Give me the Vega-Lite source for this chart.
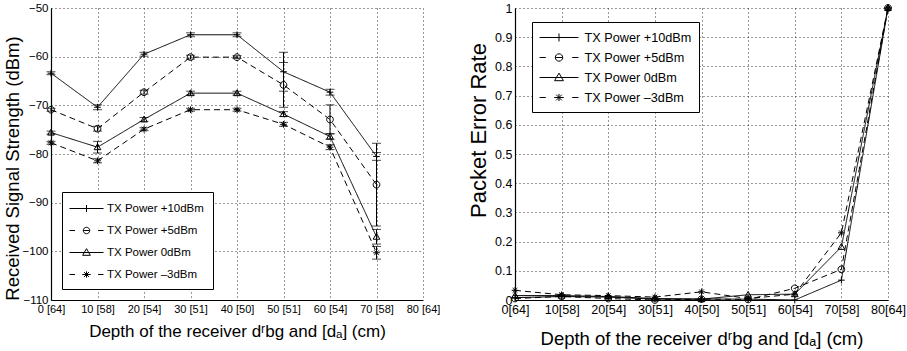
{
  "$schema": "https://vega.github.io/schema/vega-lite/v6.json",
  "background": "white",
  "padding": {"left": 3, "top": 2, "right": 2, "bottom": 0},
  "spacing": 27,
  "config": {
    "font": "Liberation Sans",
    "view": {"stroke": null},
    "axis": {
      "domainColor": "black", "domainWidth": 1.2,
      "grid": true, "gridColor": "#333", "gridDash": [1, 3], "gridOpacity": 1, "gridWidth": 1,
      "ticks": false, "labelColor": "black", "titleColor": "black",
      "labelFont": "Liberation Sans", "titleFont": "Liberation Sans", "titleFontWeight": "normal",
      "labelFlush": false, "labelOverlap": false, "labelPadding": 3
    },
    "legend": {"labelFont": "Liberation Sans", "labelColor": "black"}
  },
  "datasets": {
    "rss": [
      {"series": "TX Power +10dBm", "depth": 0, "rss": -63.4, "lo": -63.7, "hi": -63.1},
      {"series": "TX Power +10dBm", "depth": 10, "rss": -70.4, "lo": -70.9, "hi": -69.9},
      {"series": "TX Power +10dBm", "depth": 20, "rss": -59.5, "lo": -59.9, "hi": -59.1},
      {"series": "TX Power +10dBm", "depth": 30, "rss": -55.5, "lo": -55.9, "hi": -55.1},
      {"series": "TX Power +10dBm", "depth": 40, "rss": -55.5, "lo": -55.9, "hi": -55.1},
      {"series": "TX Power +10dBm", "depth": 50, "rss": -63.1, "lo": -67.1, "hi": -59.1},
      {"series": "TX Power +10dBm", "depth": 60, "rss": -67.3, "lo": -67.9, "hi": -66.7},
      {"series": "TX Power +10dBm", "depth": 70, "rss": -80.5, "lo": -81.3, "hi": -79.7},
      {"series": "TX Power +5dBm", "depth": 0, "rss": -70.9, "lo": -71.2, "hi": -70.6},
      {"series": "TX Power +5dBm", "depth": 10, "rss": -74.8, "lo": -75.3, "hi": -74.3},
      {"series": "TX Power +5dBm", "depth": 20, "rss": -67.3, "lo": -67.7, "hi": -66.9},
      {"series": "TX Power +5dBm", "depth": 30, "rss": -60.1, "lo": -60.5, "hi": -59.7},
      {"series": "TX Power +5dBm", "depth": 40, "rss": -60.1, "lo": -60.4, "hi": -59.8},
      {"series": "TX Power +5dBm", "depth": 50, "rss": -65.8, "lo": -70.4, "hi": -61.2},
      {"series": "TX Power +5dBm", "depth": 60, "rss": -72.9, "lo": -75.9, "hi": -69.9},
      {"series": "TX Power +5dBm", "depth": 70, "rss": -86.3, "lo": -94.8, "hi": -77.8},
      {"series": "TX Power 0dBm", "depth": 0, "rss": -75.6, "lo": -75.9, "hi": -75.3},
      {"series": "TX Power 0dBm", "depth": 10, "rss": -78.6, "lo": -79.8, "hi": -77.4},
      {"series": "TX Power 0dBm", "depth": 20, "rss": -72.9, "lo": -73.3, "hi": -72.5},
      {"series": "TX Power 0dBm", "depth": 30, "rss": -67.5, "lo": -67.9, "hi": -67.1},
      {"series": "TX Power 0dBm", "depth": 40, "rss": -67.5, "lo": -67.9, "hi": -67.1},
      {"series": "TX Power 0dBm", "depth": 50, "rss": -71.8, "lo": -72.3, "hi": -71.3},
      {"series": "TX Power 0dBm", "depth": 60, "rss": -76.4, "lo": -77.0, "hi": -75.8},
      {"series": "TX Power 0dBm", "depth": 70, "rss": -97.0, "lo": -98.5, "hi": -95.5},
      {"series": "TX Power –3dBm", "depth": 0, "rss": -77.7, "lo": -78.0, "hi": -77.4},
      {"series": "TX Power –3dBm", "depth": 10, "rss": -81.4, "lo": -81.8, "hi": -81.0},
      {"series": "TX Power –3dBm", "depth": 20, "rss": -74.9, "lo": -75.2, "hi": -74.6},
      {"series": "TX Power –3dBm", "depth": 30, "rss": -70.9, "lo": -71.2, "hi": -70.6},
      {"series": "TX Power –3dBm", "depth": 40, "rss": -70.9, "lo": -71.2, "hi": -70.6},
      {"series": "TX Power –3dBm", "depth": 50, "rss": -73.9, "lo": -74.3, "hi": -73.5},
      {"series": "TX Power –3dBm", "depth": 60, "rss": -78.6, "lo": -79.1, "hi": -78.1},
      {"series": "TX Power –3dBm", "depth": 70, "rss": -100.3, "lo": -101.6, "hi": -99.0}
    ],
    "per": [
      {"series": "TX Power +10dBm", "depth": 0, "per": 0.008},
      {"series": "TX Power +10dBm", "depth": 10, "per": 0.012},
      {"series": "TX Power +10dBm", "depth": 20, "per": 0.01},
      {"series": "TX Power +10dBm", "depth": 30, "per": 0.003},
      {"series": "TX Power +10dBm", "depth": 40, "per": 0.003},
      {"series": "TX Power +10dBm", "depth": 50, "per": 0.003},
      {"series": "TX Power +10dBm", "depth": 60, "per": 0.0},
      {"series": "TX Power +10dBm", "depth": 70, "per": 0.068},
      {"series": "TX Power +10dBm", "depth": 80, "per": 1.0},
      {"series": "TX Power +5dBm", "depth": 0, "per": 0.005},
      {"series": "TX Power +5dBm", "depth": 10, "per": 0.012},
      {"series": "TX Power +5dBm", "depth": 20, "per": 0.005},
      {"series": "TX Power +5dBm", "depth": 30, "per": 0.0},
      {"series": "TX Power +5dBm", "depth": 40, "per": 0.003},
      {"series": "TX Power +5dBm", "depth": 50, "per": 0.002},
      {"series": "TX Power +5dBm", "depth": 60, "per": 0.04},
      {"series": "TX Power +5dBm", "depth": 70, "per": 0.105},
      {"series": "TX Power +5dBm", "depth": 80, "per": 1.0},
      {"series": "TX Power 0dBm", "depth": 0, "per": 0.015},
      {"series": "TX Power 0dBm", "depth": 10, "per": 0.015},
      {"series": "TX Power 0dBm", "depth": 20, "per": 0.012},
      {"series": "TX Power 0dBm", "depth": 30, "per": 0.005},
      {"series": "TX Power 0dBm", "depth": 40, "per": 0.003},
      {"series": "TX Power 0dBm", "depth": 50, "per": 0.018},
      {"series": "TX Power 0dBm", "depth": 60, "per": 0.02},
      {"series": "TX Power 0dBm", "depth": 70, "per": 0.182},
      {"series": "TX Power 0dBm", "depth": 80, "per": 1.0},
      {"series": "TX Power –3dBm", "depth": 0, "per": 0.033},
      {"series": "TX Power –3dBm", "depth": 10, "per": 0.018},
      {"series": "TX Power –3dBm", "depth": 20, "per": 0.015},
      {"series": "TX Power –3dBm", "depth": 30, "per": 0.01},
      {"series": "TX Power –3dBm", "depth": 40, "per": 0.028},
      {"series": "TX Power –3dBm", "depth": 50, "per": 0.005},
      {"series": "TX Power –3dBm", "depth": 60, "per": 0.02},
      {"series": "TX Power –3dBm", "depth": 70, "per": 0.23},
      {"series": "TX Power –3dBm", "depth": 80, "per": 1.0}
    ]
  },
  "hconcat": [
    {
      "width": 372, "height": 292,
      "data": {"name": "rss"},
      "encoding": {
        "x": {"field": "depth", "type": "quantitative", "scale": {"domain": [0, 80], "nice": false},
          "title": "Depth of the receiver dʳbg and [dₐ] (cm)",
          "axis": {"values": [0, 10, 20, 30, 40, 50, 60, 70, 80], "tickCount": 12,
            "labelExpr": "datum.value + ' [' + ['64','58','54','51','50','51','54','58','64'][round(datum.value/10)] + ']'",
            "labelFontSize": 11, "titleFontSize": 17, "titlePadding": 9, "labelOverlap": false}}
      },
      "layer": [
        {
          "mark": {"type": "line", "color": "black", "strokeWidth": 1},
          "encoding": {
            "y": {"field": "rss", "type": "quantitative", "scale": {"domain": [-110, -50], "nice": false},
              "title": "Received Signal Strength (dBm)",
              "axis": {"values": [-110, -100, -90, -80, -70, -60, -50], "tickCount": 12, "labelFontSize": 11.5, "titleFontSize": 18.5, "titlePadding": 0, "titleY": 160, "labelOverlap": false}},
            "detail": {"field": "series"},
            "strokeDash": {"field": "series", "type": "nominal",
              "scale": {"domain": ["TX Power +10dBm", "TX Power +5dBm", "TX Power 0dBm", "TX Power –3dBm"], "range": [[1, 0], [6, 4], [1, 0], [6, 4]]},
              "legend": null}
          }
        },
        {
          "mark": {"type": "rule", "color": "black", "strokeWidth": 1},
          "encoding": {
            "y": {"field": "lo", "type": "quantitative", "title": "Received Signal Strength (dBm)"},
            "y2": {"field": "hi"}
          }
        },
        {
          "mark": {"type": "tick", "orient": "horizontal", "color": "black", "size": 9, "thickness": 1},
          "encoding": {
            "y": {"field": "lo", "type": "quantitative", "title": "Received Signal Strength (dBm)"}
          }
        },
        {
          "mark": {"type": "tick", "orient": "horizontal", "color": "black", "size": 9, "thickness": 1},
          "encoding": {
            "y": {"field": "hi", "type": "quantitative", "title": "Received Signal Strength (dBm)"}
          }
        },
        {
          "mark": {"type": "point", "filled": false, "stroke": "black", "strokeWidth": 1, "opacity": 1, "size": 45},
          "encoding": {
            "y": {"field": "rss", "type": "quantitative", "title": "Received Signal Strength (dBm)"},
            "shape": {"field": "series", "type": "nominal",
              "scale": {"domain": ["TX Power +10dBm", "TX Power +5dBm", "TX Power 0dBm", "TX Power –3dBm"],
                "range": ["M-1,0H1M0,-1V1", "M1,0A1,1 0 1,1 -1,0A1,1 0 1,1 1,0Z", "M0,-1L1,0.75L-1,0.75Z", "M-1,0H1M0,-1V1M-0.7,-0.7L0.7,0.7M-0.7,0.7L0.7,-0.7"]},
              "legend": null}
          }
        },
        {
          "mark": {"type": "point", "filled": false, "opacity": 0},
          "encoding": {
            "y": {"field": "rss", "type": "quantitative", "title": "Received Signal Strength (dBm)"},
            "shape": {"field": "series", "type": "nominal",
              "scale": {"domain": ["TX Power +10dBm", "TX Power +5dBm", "TX Power 0dBm", "TX Power –3dBm"],
                "range": ["M-2.43,0H2.43M0,-0.5V0.5", "M-2.43,0H-1.65M1.65,0H2.43M-0.46,0H0.46M0.46,0A0.46,0.46 0 1,1 -0.46,0A0.46,0.46 0 1,1 0.46,0Z", "M-2.43,0H2.43M0,-0.55L0.55,0.4L-0.55,0.4Z", "M-2.43,0H-1.65M1.65,0H2.43M-0.6,0H0.6M0,-0.45V0.45M-0.35,-0.35L0.35,0.35M-0.35,0.35L0.35,-0.35"]},
              "legend": {"orient": "none", "legendX": 11, "legendY": 184, "title": null,
                "strokeColor": "black", "fillColor": "white", "padding": 9,
                "encode": {"legend": {"update": {"strokeWidth": {"value": 1.5}}}},
                "symbolSize": 196, "symbolStrokeColor": "black", "symbolFillColor": "transparent", "symbolOpacity": 1, "symbolStrokeWidth": 1,
                "symbolOffset": 8, "labelOffset": 13, "labelFontSize": 11.5, "rowPadding": 9}}
          }
        }
      ],
      "resolve": {"scale": {"shape": "independent"}, "legend": {"shape": "independent"}}
    },
    {
      "width": 373, "height": 292,
      "data": {"name": "per"},
      "encoding": {
        "x": {"field": "depth", "type": "quantitative", "scale": {"domain": [0, 80], "nice": false},
          "title": "Depth of the receiver dʳbg and [dₐ] (cm)",
          "axis": {"values": [0, 10, 20, 30, 40, 50, 60, 70, 80], "tickCount": 12,
            "labelExpr": "datum.value + '[' + ['64','58','54','51','50','51','54','58','64'][round(datum.value/10)] + ']'",
            "labelFontSize": 12.6, "titleFontSize": 18.5, "titlePadding": 14, "labelOverlap": false}},
        "y": {"field": "per", "type": "quantitative", "scale": {"domain": [0, 1], "nice": false},
          "title": "Packet Error Rate",
          "axis": {"values": [0, 0.1, 0.2, 0.3, 0.4, 0.5, 0.6, 0.7, 0.8, 0.9, 1], "tickCount": 14, "format": "~g", "labelFontSize": 12.5, "titleFontSize": 22, "titlePadding": 4, "titleY": 122, "labelOverlap": false}}
      },
      "layer": [
        {
          "mark": {"type": "line", "color": "black", "strokeWidth": 1},
          "encoding": {
            "detail": {"field": "series"},
            "strokeDash": {"field": "series", "type": "nominal",
              "scale": {"domain": ["TX Power +10dBm", "TX Power +5dBm", "TX Power 0dBm", "TX Power –3dBm"], "range": [[1, 0], [6, 4], [1, 0], [6, 4]]},
              "legend": null}
          }
        },
        {
          "mark": {"type": "point", "filled": false, "stroke": "black", "strokeWidth": 1, "opacity": 1, "size": 45},
          "encoding": {
            "shape": {"field": "series", "type": "nominal",
              "scale": {"domain": ["TX Power +10dBm", "TX Power +5dBm", "TX Power 0dBm", "TX Power –3dBm"],
                "range": ["M-1,0H1M0,-1V1", "M1,0A1,1 0 1,1 -1,0A1,1 0 1,1 1,0Z", "M0,-1L1,0.75L-1,0.75Z", "M-1,0H1M0,-1V1M-0.7,-0.7L0.7,0.7M-0.7,0.7L0.7,-0.7"]},
              "legend": null}
          }
        },
        {
          "mark": {"type": "point", "filled": false, "opacity": 0},
          "encoding": {
            "shape": {"field": "series", "type": "nominal",
              "scale": {"domain": ["TX Power +10dBm", "TX Power +5dBm", "TX Power 0dBm", "TX Power –3dBm"],
                "range": ["M-2.43,0H2.43M0,-0.5V0.5", "M-2.43,0H-1.65M1.65,0H2.43M-0.46,0H0.46M0.46,0A0.46,0.46 0 1,1 -0.46,0A0.46,0.46 0 1,1 0.46,0Z", "M-2.43,0H2.43M0,-0.55L0.55,0.4L-0.55,0.4Z", "M-2.43,0H-1.65M1.65,0H2.43M-0.6,0H0.6M0,-0.45V0.45M-0.35,-0.35L0.35,0.35M-0.35,0.35L0.35,-0.35"]},
              "legend": {"orient": "none", "legendX": 17, "legendY": 14, "title": null,
                "strokeColor": "black", "fillColor": "white", "padding": 7,
                "encode": {"legend": {"update": {"strokeWidth": {"value": 1.5}}}},
                "symbolSize": 256, "symbolStrokeColor": "black", "symbolFillColor": "transparent", "symbolOpacity": 1, "symbolStrokeWidth": 1,
                "symbolOffset": 11.5, "labelOffset": 17, "labelFontSize": 12.7, "rowPadding": 4}}
          }
        }
      ],
      "resolve": {"scale": {"shape": "independent"}, "legend": {"shape": "independent"}}
    }
  ]
}
